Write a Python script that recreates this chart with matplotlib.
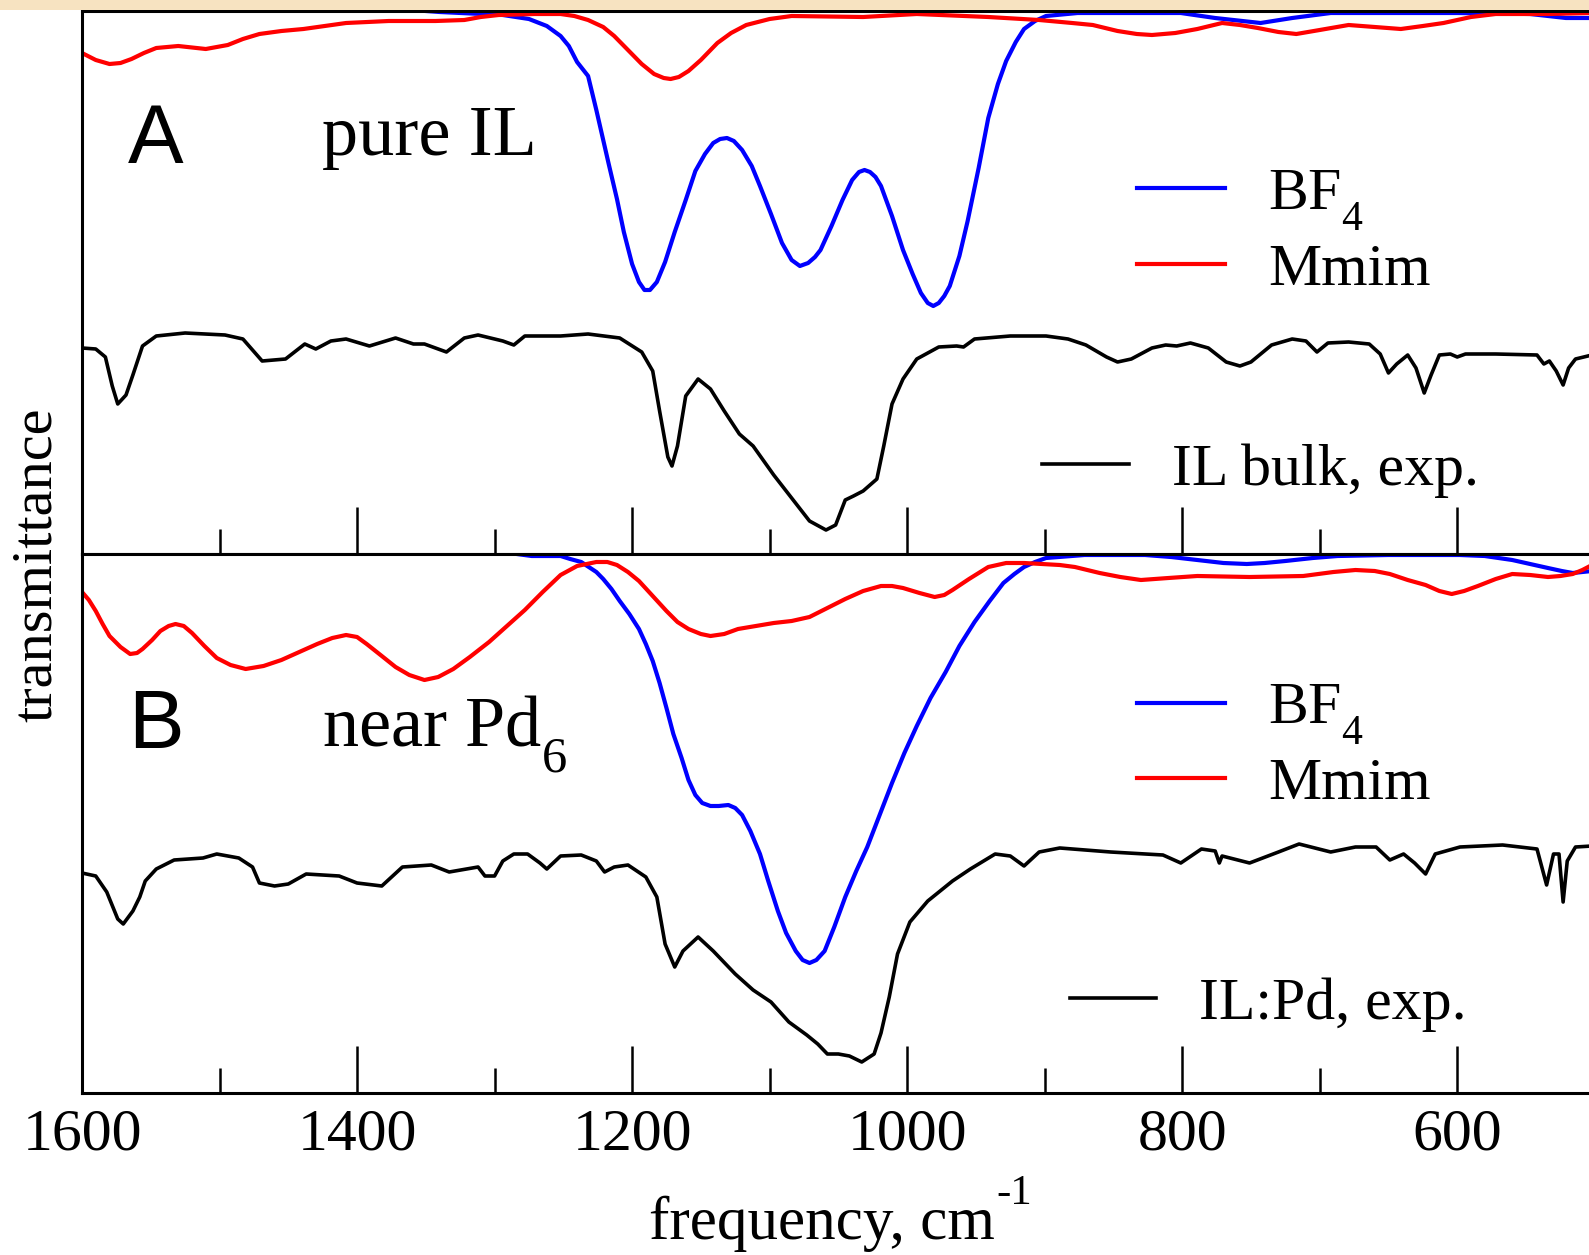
import numpy as np
import matplotlib
matplotlib.use('Agg')
import matplotlib.pyplot as plt
import matplotlib._mathtext as mathtext_internal
from matplotlib.patches import Rectangle
from matplotlib.ticker import MultipleLocator

plt.rcParams['font.family'] = ['Liberation Serif', 'DejaVu Serif']
plt.rcParams['mathtext.fontset'] = 'custom'
plt.rcParams['mathtext.rm'] = 'Liberation Serif'
plt.rcParams['mathtext.it'] = 'Liberation Serif:italic'
# the original puts subscripts noticeably lower than mathtext does by default
mathtext_internal.FontConstantsBase.sub1 = 0.8

# (frequency cm^-1, transmittance in arbitrary units)
# panel A: pure IL
top_bf4 = np.array([
    (1600, 552), (1400, 548), (1340, 542), (1294, 539), (1275, 535), (1262, 528),
    (1252, 518), (1246, 508), (1240, 492), (1232, 478), (1226, 444), (1217, 390),
    (1211, 355), (1206, 322), (1200, 290), (1195, 272), (1191, 264), (1187, 264),
    (1182, 272), (1176, 292), (1169, 322), (1161, 354), (1154, 383), (1147, 400),
    (1141, 411), (1136, 415), (1131, 416), (1126, 413), (1120, 404), (1113, 388),
    (1107, 368), (1099, 340), (1091, 311), (1084, 294), (1078, 288), (1072, 291),
    (1067, 297), (1063, 304), (1055, 328), (1047, 354), (1040, 374), (1035, 382),
    (1031, 384), (1027, 382), (1023, 377), (1019, 368), (1011, 338), (1003, 304),
    (996, 280), (990, 261), (985, 251), (981, 248), (977, 251), (973, 258),
    (969, 268), (962, 298), (956, 333), (948, 386), (941, 436), (934, 470),
    (928, 493), (921, 512), (915, 525), (907, 533), (899, 538), (876, 541),
    (801, 541), (776, 536), (743, 531), (720, 536), (692, 541), (600, 541),
    (547, 540), (521, 536), (502, 536)])

top_mmim = np.array([
    (1600, 501), (1590, 494), (1580, 490), (1572, 491), (1564, 495), (1555, 501),
    (1546, 506), (1530, 508), (1510, 505), (1494, 509), (1483, 515), (1471, 520),
    (1455, 523), (1439, 525), (1408, 531), (1377, 533), (1343, 533), (1322, 534),
    (1310, 537), (1297, 539), (1271, 540), (1252, 540), (1242, 538), (1232, 534),
    (1221, 527), (1213, 518), (1203, 504), (1193, 490), (1184, 480), (1177, 476),
    (1172, 475), (1166, 477), (1159, 483), (1150, 494), (1138, 511), (1128, 521),
    (1117, 529), (1100, 535), (1084, 538), (1032, 537), (993, 540), (941, 537),
    (904, 534), (880, 531), (865, 529), (847, 523), (833, 520), (822, 519),
    (805, 521), (789, 525), (771, 531), (758, 529), (745, 526), (730, 522),
    (717, 520), (700, 524), (679, 529), (660, 527), (641, 525), (625, 528),
    (610, 531), (590, 537), (572, 540), (534, 540), (502, 541)])

top_exp = np.array([
    (1600, 206), (1590, 205), (1583, 197), (1578, 168), (1574, 150), (1568, 159),
    (1563, 179), (1556, 208), (1546, 218), (1525, 221), (1496, 219), (1483, 215),
    (1476, 204), (1469, 193), (1452, 195), (1438, 210), (1430, 205), (1419, 213),
    (1408, 215), (1391, 208), (1372, 216), (1359, 210), (1351, 210), (1335, 202),
    (1322, 216), (1312, 219), (1294, 213), (1286, 209), (1278, 218), (1252, 218),
    (1232, 220), (1209, 216), (1193, 202), (1185, 183), (1180, 143), (1174, 97),
    (1171, 88), (1167, 108), (1161, 158), (1152, 175), (1143, 165), (1133, 143),
    (1122, 120), (1112, 108), (1097, 79), (1084, 56), (1071, 33), (1059, 24),
    (1052, 29), (1045, 54), (1039, 58), (1032, 63), (1022, 75), (1017, 108),
    (1011, 150), (1003, 175), (993, 195), (977, 207), (964, 208), (959, 207),
    (951, 215), (925, 218), (899, 218), (883, 215), (870, 209), (855, 197),
    (847, 192), (837, 195), (822, 206), (812, 209), (804, 208), (794, 211),
    (781, 206), (768, 192), (758, 188), (750, 192), (735, 209), (720, 215),
    (710, 213), (702, 202), (694, 211), (679, 212), (664, 210), (656, 200),
    (650, 181), (644, 190), (636, 199), (630, 186), (624, 161), (619, 179),
    (613, 199), (605, 200), (600, 197), (594, 200), (572, 200), (542, 199),
    (537, 190), (533, 193), (528, 183), (523, 169), (519, 186), (514, 195),
    (502, 199)])

# panel B: near Pd6
bot_bf4 = np.array([
    (1600, 546), (1300, 542), (1273, 537), (1252, 537), (1245, 534), (1237, 531),
    (1226, 521), (1221, 514), (1215, 504), (1209, 492), (1202, 479), (1195, 464),
    (1190, 449), (1185, 432), (1180, 410), (1175, 385), (1170, 359), (1164, 335),
    (1159, 313), (1154, 298), (1149, 290), (1143, 287), (1137, 287), (1130, 288),
    (1125, 285), (1120, 278), (1114, 262), (1107, 239), (1101, 212), (1094, 182),
    (1088, 160), (1081, 142), (1076, 133), (1071, 130), (1066, 133), (1060, 142),
    (1053, 166), (1045, 196), (1037, 222), (1029, 246), (1020, 278), (1011, 310),
    (1002, 340), (993, 367), (983, 395), (972, 421), (962, 447), (951, 471),
    (940, 492), (930, 510), (922, 519), (915, 526), (907, 531), (899, 535),
    (871, 538), (827, 538), (808, 536), (789, 533), (770, 530), (753, 529),
    (740, 530), (725, 532), (705, 535), (687, 537), (650, 538), (598, 538),
    (580, 537), (560, 533), (547, 529), (534, 525), (524, 522), (516, 520),
    (502, 522)])

bot_mmim = np.array([
    (1600, 501), (1595, 493), (1590, 482), (1585, 469), (1580, 457), (1572, 446),
    (1565, 439), (1560, 440), (1556, 444), (1549, 453), (1543, 462), (1537, 467),
    (1532, 469), (1526, 467), (1520, 460), (1511, 447), (1502, 435), (1492, 428),
    (1481, 424), (1468, 427), (1455, 433), (1442, 441), (1429, 449), (1418, 455),
    (1408, 458), (1400, 456), (1393, 449), (1382, 437), (1372, 426), (1362, 418),
    (1351, 413), (1341, 416), (1330, 424), (1318, 436), (1304, 451), (1291, 467),
    (1278, 483), (1265, 501), (1252, 518), (1240, 527), (1226, 531), (1218, 531),
    (1211, 528), (1203, 521), (1195, 512), (1185, 497), (1175, 482), (1167, 471),
    (1159, 464), (1150, 459), (1143, 457), (1133, 459), (1123, 464), (1110, 467),
    (1097, 470), (1084, 472), (1071, 476), (1058, 485), (1045, 494), (1032, 502),
    (1019, 507), (1011, 507), (1003, 505), (991, 500), (980, 496), (973, 498),
    (967, 503), (955, 514), (941, 526), (928, 530), (915, 530), (889, 528),
    (878, 526), (860, 520), (845, 516), (830, 513), (810, 515), (789, 517),
    (751, 516), (712, 517), (690, 521), (674, 523), (660, 522), (649, 519),
    (636, 513), (623, 508), (613, 502), (604, 499), (595, 502), (585, 507),
    (572, 514), (560, 519), (547, 518), (534, 516), (525, 517), (516, 519),
    (509, 523), (502, 528)])

bot_exp = np.array([
    (1600, 220), (1590, 217), (1582, 201), (1574, 174), (1570, 169), (1563, 182),
    (1558, 196), (1554, 212), (1546, 224), (1533, 233), (1512, 235), (1502, 239),
    (1486, 235), (1476, 226), (1471, 210), (1460, 207), (1450, 209), (1437, 219),
    (1413, 217), (1400, 210), (1382, 207), (1367, 226), (1346, 228), (1333, 221),
    (1312, 226), (1307, 217), (1300, 217), (1294, 232), (1286, 239), (1276, 239),
    (1267, 230), (1262, 224), (1252, 237), (1237, 238), (1226, 232), (1220, 221),
    (1213, 226), (1203, 228), (1190, 216), (1182, 196), (1176, 149), (1169, 126),
    (1163, 142), (1152, 156), (1141, 142), (1125, 119), (1112, 103), (1099, 91),
    (1086, 71), (1073, 58), (1065, 49), (1058, 39), (1050, 39), (1042, 37),
    (1033, 31), (1024, 39), (1019, 60), (1013, 96), (1007, 139), (998, 171),
    (985, 192), (967, 212), (954, 224), (936, 239), (925, 237), (915, 227),
    (904, 241), (889, 245), (852, 241), (814, 238), (801, 230), (786, 244),
    (776, 242), (773, 230), (771, 237), (751, 230), (730, 241), (715, 249),
    (692, 241), (674, 246), (659, 246), (649, 233), (639, 239), (631, 230),
    (623, 219), (616, 239), (598, 246), (567, 248), (542, 244), (535, 208),
    (530, 239), (526, 239), (523, 191), (520, 232), (514, 246), (502, 247)])

W, H = 1589, 1255
fig = plt.figure(figsize=(W / 100, H / 100), dpi=100)

# pale strip along the top edge of the original figure
fig.patches.append(Rectangle((0, 1 - 10 / H), 1, 10 / H, transform=fig.transFigure,
                             facecolor='#f7e3c1', edgecolor='none', zorder=0))

ax_l = 82 / W
ax_w = 1510 / W
ax1 = fig.add_axes([ax_l, 1 - 554 / H, ax_w, 543 / H])
ax2 = fig.add_axes([ax_l, 1 - 1093 / H, ax_w, 539 / H])

panels = [
    (ax1, top_bf4, top_mmim, top_exp, 543, 'IL bulk, exp.', 'pure IL', 'A'),
    (ax2, bot_bf4, bot_mmim, bot_exp, 539, 'IL:Pd, exp.', 'near Pd$_6$', 'B'),
]

for ax, bf4, mmim, exp, ytop, exp_label, title, letter in panels:
    top = letter == 'A'
    hb, = ax.plot(bf4[:, 0], bf4[:, 1], color='#0000ff', lw=3.0, label='BF$_4$')
    hr, = ax.plot(mmim[:, 0], mmim[:, 1], color='#ff0000', lw=3.0, label='Mmim')
    hk, = ax.plot(exp[:, 0], exp[:, 1], color='black', lw=2.6, label=exp_label)

    ax.set_xlim(1600, 502)
    ax.set_ylim(0, ytop)
    ax.set_yticks([])
    ax.xaxis.set_major_locator(MultipleLocator(200))
    ax.xaxis.set_minor_locator(MultipleLocator(100))
    ax.tick_params(axis='x', which='both', direction='in', top=False, width=1.8,
                   labelsize=43, pad=11)
    ax.tick_params(axis='x', which='major', length=34)
    ax.tick_params(axis='x', which='minor', length=18)
    for s in ['top', 'bottom', 'left']:
        ax.spines[s].set_linewidth(2.2)
    ax.spines['right'].set_visible(False)

    ax.text(0.0305, 0.72 if top else 0.64, letter, transform=ax.transAxes,
            fontsize=60, family=['Liberation Sans', 'DejaVu Sans'], va='baseline', ha='left')
    ax.text(0.159, 0.734 if top else 0.644, title, transform=ax.transAxes,
            fontsize=52, va='baseline', ha='left')

    leg = ax.legend(handles=[hb, hr], loc='center left',
                    bbox_to_anchor=(0.699, 0.592 if top else 0.642),
                    frameon=False, fontsize=43, handlelength=1.47, handletextpad=0.72,
                    borderpad=0, borderaxespad=0, labelspacing=0.17)
    ax.add_artist(leg)
    ax.legend(handles=[hk], loc='center left',
              bbox_to_anchor=(0.636 if top else 0.654, 0.153 if top else 0.164),
              frameon=False, fontsize=43, handlelength=1.45, handletextpad=0.72,
              borderpad=0, borderaxespad=0)

ax1.tick_params(axis='x', labelbottom=False)
ax2.set_xlabel('frequency, cm', fontsize=44, labelpad=24)
ax2.xaxis.label.set_x(0.49)
ax2.annotate('-1', xy=(1, 1), xycoords=ax2.xaxis.label, xytext=(1, 15),
             textcoords='offset points', fontsize=31, ha='left', va='top')

fig.text(37 / W, 1 - 565 / H, 'transmittance', rotation=90, fontsize=42,
         ha='center', va='center')

fig.savefig('out.png', dpi=100)
